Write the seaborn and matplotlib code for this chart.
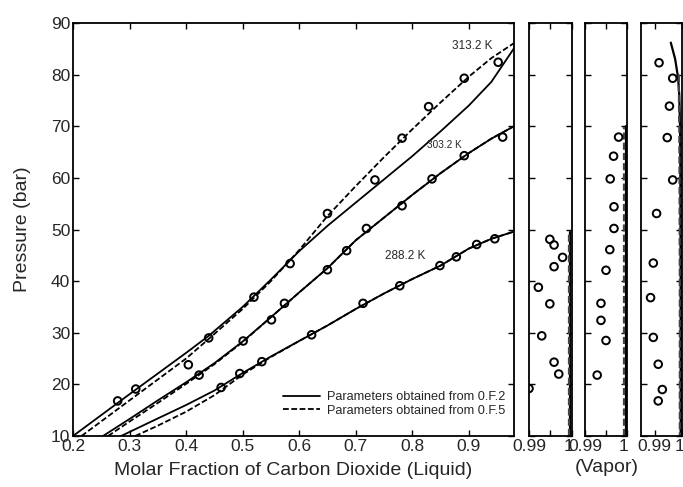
import numpy as np
import pandas as pd
import seaborn as sns
import matplotlib
matplotlib.use("Agg")
import matplotlib.pyplot as plt
from matplotlib.lines import Line2D
import matplotlib.transforms as mtransforms

sns.set_style("ticks")
plt.rcParams['font.family'] = ['Liberation Sans', 'DejaVu Sans']

# ---------------- data ----------------
# experimental liquid compositions (x CO2) and pressures (bar)
liq_288_x = [0.462, 0.495, 0.534, 0.622, 0.713, 0.778, 0.849, 0.878, 0.914, 0.946]
liq_288_p = [19.4, 22.1, 24.4, 29.6, 35.7, 39.1, 43.0, 44.7, 47.1, 48.2]
liq_303_x = [0.423, 0.501, 0.551, 0.574, 0.650, 0.684, 0.719, 0.782, 0.835, 0.892, 0.960]
liq_303_p = [21.8, 28.4, 32.5, 35.7, 42.2, 45.9, 50.2, 54.6, 59.8, 64.3, 67.9]
liq_313_x = [0.279, 0.311, 0.404, 0.440, 0.520, 0.584, 0.650, 0.734, 0.782, 0.829, 0.892, 0.952]
liq_313_p = [16.8, 19.1, 23.8, 29.0, 36.9, 43.4, 53.1, 59.6, 67.7, 73.8, 79.3, 82.4]

# experimental vapour compositions (y CO2) and pressures (bar)
vap_288_y = [0.9949, 0.9959, 0.9979, 0.9959, 0.9922, 0.9949, 0.9930, 0.9959, 0.9970, 0.9900]
vap_288_p = [48.1, 47.0, 44.6, 42.8, 38.8, 35.6, 29.4, 24.3, 22.0, 19.2]
vap_303_y = [0.9980, 0.9968, 0.9960, 0.9969, 0.9969, 0.9959, 0.9950, 0.9938, 0.9938, 0.9950, 0.9929]
vap_303_p = [67.9, 64.2, 59.8, 54.4, 50.2, 46.1, 42.1, 35.7, 32.4, 28.5, 21.8]
vap_313_y = [0.9916, 0.9966, 0.9954, 0.9946, 0.9966, 0.9907, 0.9895, 0.9885, 0.9895, 0.9913, 0.9928, 0.9913]
vap_313_p = [82.3, 79.3, 73.9, 67.8, 59.6, 53.1, 43.5, 36.8, 29.1, 23.9, 19.0, 16.8]

# model curves, liquid side
of2_288_x = [0.285, 0.35, 0.40, 0.45, 0.50, 0.55, 0.60, 0.65, 0.70, 0.75, 0.80, 0.85, 0.90, 0.94, 0.98]
of2_288_p = [10.0, 13.4, 16.0, 18.8, 22.2, 25.4, 28.4, 31.4, 34.6, 37.6, 40.4, 43.0, 46.3, 48.2, 49.6]
of5_288_x = [0.31, 0.35, 0.40, 0.45, 0.50, 0.55, 0.60, 0.65, 0.70, 0.75, 0.80, 0.85, 0.90, 0.94, 0.98]
of5_288_p = [10.0, 12.0, 14.7, 17.9, 21.9, 25.3, 28.4, 31.4, 34.6, 37.6, 40.4, 43.0, 46.3, 48.2, 49.6]

of2_303_x = [0.253, 0.30, 0.35, 0.40, 0.45, 0.50, 0.55, 0.60, 0.65, 0.70, 0.75, 0.80, 0.85, 0.90, 0.94, 0.98]
of2_303_p = [10.0, 13.3, 16.9, 20.4, 24.1, 28.3, 33.0, 37.8, 42.5, 47.9, 52.3, 56.7, 60.9, 64.8, 67.6, 70.0]
of5_303_x = [0.262, 0.30, 0.35, 0.40, 0.45, 0.50, 0.55, 0.60, 0.65, 0.70, 0.75, 0.80, 0.85, 0.90, 0.94, 0.98]
of5_303_p = [10.0, 12.8, 16.4, 20.1, 23.9, 28.2, 33.0, 37.8, 42.5, 47.9, 52.3, 56.7, 60.9, 64.8, 67.6, 70.0]

of2_313_x = [0.20, 0.30, 0.40, 0.44, 0.50, 0.55, 0.60, 0.65, 0.70, 0.75, 0.80, 0.85, 0.90, 0.94, 0.98]
of2_313_p = [10.0, 18.1, 26.1, 29.4, 35.0, 40.3, 45.8, 50.7, 55.2, 59.7, 64.2, 69.0, 74.0, 78.6, 85.1]
of5_313_x = [0.215, 0.30, 0.40, 0.44, 0.50, 0.55, 0.60, 0.65, 0.70, 0.75, 0.80, 0.85, 0.90, 0.94, 0.98]
of5_313_p = [10.0, 16.9, 25.0, 28.8, 34.6, 40.0, 46.0, 52.6, 58.4, 64.0, 69.4, 74.6, 79.6, 83.2, 86.1]

# model curves, vapour side
vof2_288_y = [0.9997, 0.9997]
vof2_288_p = [10.0, 49.6]
vof5_288_y = [0.9994, 0.9994]
vof5_288_p = [10.0, 49.4]
vof2_303_y = [0.9997, 0.9997]
vof2_303_p = [10.0, 70.0]
vof5_303_y = [0.9994, 0.9994]
vof5_303_p = [10.0, 69.8]
vof2_313_y = [0.9959, 0.9975, 0.9986, 0.9990, 0.9993, 0.9994, 0.9995, 0.9995]
vof2_313_p = [86.2, 83.0, 79.3, 76.0, 70.0, 60.0, 40.0, 10.0]
vof5_313_y = [0.9988, 0.9990, 0.9991, 0.9992, 0.9992]
vof5_313_p = [80.0, 70.0, 60.0, 40.0, 10.0]

temp_labels = ["288.2 K", "303.2 K", "313.2 K"]
legend_labels = ["Parameters obtained from 0.F.2", "Parameters obtained from 0.F.5"]

# ---------------- figure ----------------
W, H = 683, 487
fig = plt.figure(figsize=(W / 100, H / 100), dpi=100)

def frac(x0, x1, y0, y1):
    return [x0 / W, 1 - y1 / H, (x1 - x0) / W, (y1 - y0) / H]

ax = fig.add_axes(frac(73, 514, 23, 436))
axv = [fig.add_axes(frac(529, 571.5, 23, 436)),
       fig.add_axes(frac(585, 627, 23, 436)),
       fig.add_axes(frac(641, 682, 23, 436))]

lw = 1.3
dash = (3.2, 1.4)

def curve(a, x, y, dashed=False, color='black', width=lw):
    df = pd.DataFrame({'x': x, 'y': y})
    sns.lineplot(data=df, x='x', y='y', ax=a, sort=False, color=color, lw=width,
                 estimator=None, legend=False)
    if dashed:
        a.lines[-1].set_dashes(dash)

def points(a, x, y):
    df = pd.DataFrame({'x': x, 'y': y})
    sns.scatterplot(data=df, x='x', y='y', ax=a, marker='o', s=30,
                    facecolor='none', edgecolor='black', linewidth=1.4,
                    legend=False, zorder=5)

# main liquid panel
for xs, ps in [(of2_288_x, of2_288_p), (of2_303_x, of2_303_p), (of2_313_x, of2_313_p)]:
    curve(ax, xs, ps)
for xs, ps in [(of5_288_x, of5_288_p), (of5_303_x, of5_303_p), (of5_313_x, of5_313_p)]:
    curve(ax, xs, ps, dashed=True)
for xs, ps in [(liq_288_x, liq_288_p), (liq_303_x, liq_303_p), (liq_313_x, liq_313_p)]:
    points(ax, xs, ps)

ax.set_xlim(0.2, 0.98)
ax.set_ylim(10, 90)
ax.set_xticks([0.2, 0.3, 0.4, 0.5, 0.6, 0.7, 0.8, 0.9])
ax.set_xticklabels(['0.2', '0.3', '0.4', '0.5', '0.6', '0.7', '0.8', '0.9'])
ax.set_yticks(range(10, 91, 10))
ax.tick_params(direction='in', length=4, width=1, top=True, right=True,
               labelsize=12.5, pad=2, color='black')
for s in ax.spines.values():
    s.set_linewidth(1.3)
    s.set_color('black')
ax.set_xlabel("Molar Fraction of Carbon Dioxide (Liquid)", fontsize=14, labelpad=6)
ax.set_ylabel("Pressure (bar)", fontsize=14, labelpad=14)

ax.text(0.907, 85.6, temp_labels[2], fontsize=8.5, ha='center', va='center')
ax.text(0.857, 66.3, temp_labels[1], fontsize=7.2, ha='center', va='center')
ax.text(0.788, 44.8, temp_labels[0], fontsize=8.5, ha='center', va='center')

handles = [Line2D([], [], color='black', lw=lw),
           Line2D([], [], color='black', lw=lw, dashes=dash)]
ax.legend(handles, legend_labels, loc='lower right', frameon=False, fontsize=9.2,
          handlelength=2.9, handletextpad=0.55, labelspacing=0.12,
          bbox_to_anchor=(1.0, 0.025), borderaxespad=0.3)

# vapour panels
vap_sets = [
    (vap_288_y, vap_288_p, vof2_288_y, vof2_288_p, vof5_288_y, vof5_288_p, (0.99, 1.0),
     [0.99, 0.995, 1.0], ['0.99', '', '1']),
    (vap_303_y, vap_303_p, vof2_303_y, vof2_303_p, vof5_303_y, vof5_303_p, (0.99, 1.0),
     [0.99, 0.995, 1.0], ['0.99', '', '1']),
    (vap_313_y, vap_313_p, vof2_313_y, vof2_313_p, vof5_313_y, vof5_313_p, (0.985, 1.0),
     [0.99, 1.0], ['0.99', '1']),
]
shift = mtransforms.ScaledTranslation(-3 / 100, 0, fig.dpi_scale_trans)
for a, (vy, vp, s2y, s2p, s5y, s5p, xl, xt, xtl) in zip(axv, vap_sets):
    curve(a, s2y, s2p, width=1.6)
    curve(a, s5y, s5p, dashed=True, color='#444444', width=1.6)
    points(a, vy, vp)
    a.set_xlim(*xl)
    a.set_ylim(10, 90)
    a.set_xticks(xt)
    a.set_xticklabels(xtl)
    a.set_yticks(range(10, 91, 10))
    a.set_yticklabels([])
    a.set_xlabel('')
    a.set_ylabel('')
    a.tick_params(direction='in', length=4, width=1, top=True, right=True,
                  labelsize=12.5, pad=2, color='black')
    for s in a.spines.values():
        s.set_linewidth(1.3)
        s.set_color('black')
    for lbl in a.get_xticklabels():
        if lbl.get_text() == '1':
            lbl.set_transform(lbl.get_transform() + shift)

fig.text(607 / W, 1 - 468 / H, "(Vapor)", fontsize=14, ha='center', va='center')

fig.savefig("out.png", dpi=100)
